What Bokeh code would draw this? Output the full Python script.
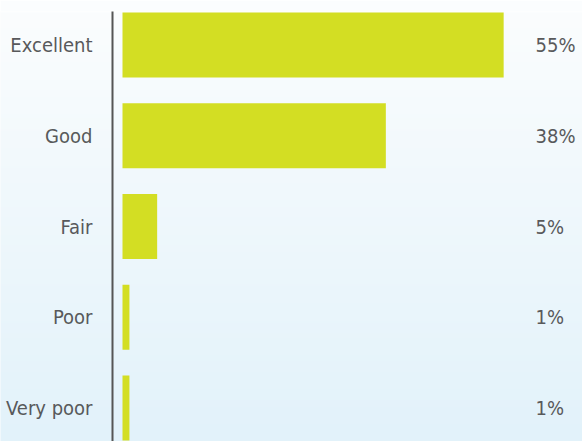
import numpy as np
from bokeh.plotting import figure
from bokeh.models import Range1d, FactorRange, ColumnDataSource
from bokeh.core.properties import value
from bokeh.embed import file_html
from bokeh.resources import INLINE

# ---- data ----
categories = ["Excellent", "Good", "Fair", "Poor", "Very poor"]
shares = [55, 38, 5, 1, 1]
share_labels = ["55%", "38%", "5%", "1%", "1%"]

BAR_COLOR = "#d3de23"
TEXT_COLOR = "#58595b"
FONT = "'Liberation Sans Narrow', 'DejaVu Sans Condensed', 'Roboto Condensed', 'Open Sans'"

W, H = 582, 441
TOP_PAD = 11
PX_PER_UNIT = 6.93
ZERO_PX = 122

x_start = -ZERO_PX / PX_PER_UNIT
x_end = (W - ZERO_PX) / PX_PER_UNIT

p = figure(width=W, height=H, output_backend="svg", toolbar_location=None,
           x_range=Range1d(x_start, x_end),
           y_range=FactorRange(factors=list(reversed(categories)),
                               range_padding=-0.131, range_padding_units="absolute"),
           min_border=0, min_border_left=0, min_border_right=0,
           min_border_top=TOP_PAD, min_border_bottom=0,
           x_axis_location=None, y_axis_location=None,
           border_fill_color="#fbfdfe")
p.grid.visible = False
p.outline_line_color = None

# background gradient (styling only)
top = np.array([251, 253, 254], dtype=float)
bot = np.array([226, 242, 250], dtype=float)
n = 200
t = np.linspace(0, 1, n)[:, None]
cols = (bot * (1 - t) + top * t).astype(np.uint32)  # row 0 = bottom
img = np.zeros((n, 1), dtype=np.uint32)
view = img.view(dtype=np.uint8).reshape((n, 1, 4))
view[:, 0, 0] = cols[:, 0]
view[:, 0, 1] = cols[:, 1]
view[:, 0, 2] = cols[:, 2]
view[:, 0, 3] = 255
p.image_rgba(image=[img], x=x_start - 5, y=0.13, dw=(x_end - x_start) + 10, dh=4.74)

src = ColumnDataSource(dict(cat=categories, share=shares, lab=share_labels,
                            zero=[0] * len(categories)))

p.hbar(y="cat", left=0, right="share", height=0.716, source=src,
       fill_color=BAR_COLOR, line_color=None)

# axis line
axis_x = -10 / PX_PER_UNIT
p.segment(x0=[axis_x], x1=[axis_x], y0=[("Excellent", 0.6)], y1=[("Very poor", -0.6)],
          line_color="#555555", line_width=2)

# category labels
p.text(x="zero", y="cat", text="cat", source=src, x_offset=-30,
       text_align="right", text_baseline="middle",
       text_font=value(FONT), text_font_size="20px", text_color=TEXT_COLOR)

# value labels
p.text(x="zero", y="cat", text="lab", source=src, x_offset=413,
       text_align="left", text_baseline="middle",
       text_font=value(FONT), text_font_size="20px", text_color=TEXT_COLOR)

open("out.html", "w").write(file_html(p, INLINE))
